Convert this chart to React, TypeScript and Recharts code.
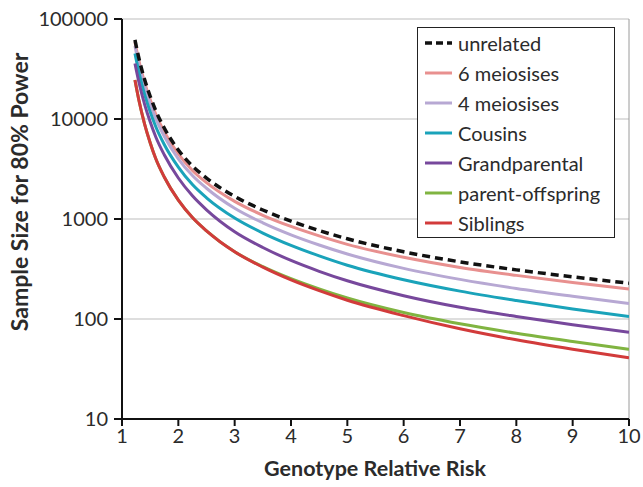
import React from 'react';
import { LineChart, Line, XAxis, YAxis, CartesianGrid, ReferenceLine, Label } from 'recharts';

const riskValues = [1.23, 1.3, 1.4, 1.5, 1.6, 1.75, 2, 2.25, 2.5, 3, 3.5, 4, 4.5, 5, 6, 7, 8, 9, 10];
const unrelated = [61700, 40500, 24970, 16890, 12090, 8130, 4900, 3390, 2570, 1680, 1230, 953, 767, 634, 470, 373, 310, 264, 228];
const meiosis6 = [58900, 38230, 23310, 15650, 11160, 7460, 4470, 3060, 2310, 1500, 1090, 843, 678, 558, 414, 328, 273, 232, 200];
const meiosis4 = [53700, 34870, 21260, 14200, 10100, 6730, 4000, 2720, 2030, 1280, 916, 695, 550, 447, 321, 249, 202, 169, 143];
const cousins = [45190, 29340, 17760, 11820, 8370, 5560, 3300, 2210, 1630, 1023, 724, 545, 428, 345, 247, 190, 153, 126, 106];
const grandparental = [35890, 23310, 14110, 9390, 6610, 4390, 2570, 1706, 1236, 746, 519, 385, 300, 241, 171, 131, 106, 87.7, 73.8];
const parentOffspring = [24550, 15400, 8960, 5790, 4000, 2630, 1542, 1035, 762, 470, 334, 253, 200, 162, 116, 89.5, 72.1, 59.6, 49.8];
const siblings = [24550, 15400, 8960, 5790, 4000, 2630, 1542, 1035, 762, 470, 330, 246, 192, 154, 108, 79.8, 61.9, 49.8, 40.9];

const xTicks = [1, 2, 3, 4, 5, 6, 7, 8, 9, 10];
const yTicks = [10, 100, 1000, 10000, 100000];

const legendOrder = [
  { key: 'unrelated', name: 'unrelated', color: '#111111', dashed: true, values: unrelated },
  { key: 'm6', name: '6 meiosises', color: '#E8908F', dashed: false, values: meiosis6 },
  { key: 'm4', name: '4 meiosises', color: '#B7A8D3', dashed: false, values: meiosis4 },
  { key: 'cousins', name: 'Cousins', color: '#1AA3BA', dashed: false, values: cousins },
  { key: 'grand', name: 'Grandparental', color: '#77489C', dashed: false, values: grandparental },
  { key: 'po', name: 'parent-offspring', color: '#80B441', dashed: false, values: parentOffspring },
  { key: 'sib', name: 'Siblings', color: '#D23B3B', dashed: false, values: siblings },
];

const drawOrder = ['m6', 'm4', 'cousins', 'grand', 'po', 'sib', 'unrelated'];

const data = riskValues.map((x, i) => {
  const row: Record<string, number> = { x };
  legendOrder.forEach((s) => {
    row[s.key] = s.values[i];
  });
  return row;
});

const FONT = 'Lato, "Open Sans", sans-serif';
const TEXT = '#2b2b2b';

export default function App() {
  return (
    <div style={{ position: 'absolute', left: 0, top: 0, width: 643, height: 487, background: '#fff', fontFamily: FONT }}>
      <LineChart width={643} height={487} data={data} margin={{ top: 19, right: 14, bottom: 0, left: 0 }}>
        <CartesianGrid horizontal={true} vertical={false} stroke="#BDBDBD" strokeWidth={1} />
        <ReferenceLine x={10} stroke="#9a9a9a" strokeWidth={1} />
        <XAxis
          dataKey="x"
          type="number"
          domain={[1, 10]}
          ticks={xTicks}
          height={68}
          allowDataOverflow
          stroke="#111"
          strokeWidth={2}
          tickSize={7}
          tickMargin={3}
          tick={{ fill: TEXT, fontSize: 20, fontFamily: FONT }}
          tickLine={{ stroke: '#111', strokeWidth: 2 }}
        >
          <Label
            content={() => (
              <text x={375} y={476} textAnchor="middle" fill={TEXT} fontSize={21.5} fontWeight="bold" fontFamily={FONT}>
                Genotype Relative Risk
              </text>
            )}
          />
        </XAxis>
        <YAxis
          scale="log"
          type="number"
          domain={[10, 100000]}
          ticks={yTicks}
          allowDataOverflow
          width={122}
          stroke="#111"
          strokeWidth={2}
          tickSize={8}
          tickMargin={6}
          tick={{ fill: TEXT, fontSize: 20, fontFamily: FONT }}
          tickLine={{ stroke: '#111', strokeWidth: 2 }}
        >
          <Label
            content={() => (
              <text
                x={19}
                y={192}
                transform="rotate(-90, 19, 192)"
                textAnchor="middle"
                dominantBaseline="central"
                fill={TEXT}
                fontSize={23}
                fontWeight="bold"
                fontFamily={FONT}
              >
                Sample Size for 80% Power
              </text>
            )}
          />
        </YAxis>
        {drawOrder.map((k) => {
          const s = legendOrder.find((d) => d.key === k)!;
          return (
            <Line
              key={s.key}
              dataKey={s.key}
              name={s.name}
              type="monotone"
              stroke={s.color}
              strokeWidth={s.dashed ? 3.5 : 3}
              strokeDasharray={s.dashed ? '8 5' : undefined}
              dot={false}
              activeDot={false}
              isAnimationActive={false}
            />
          );
        })}
      </LineChart>
      <div
        style={{
          position: 'absolute',
          left: 417,
          top: 27,
          width: 198,
          height: 211,
          border: '1.5px solid #222',
          background: '#fff',
          boxSizing: 'border-box',
          padding: 0,
        }}
      >
        {legendOrder.map((s) => (
          <div key={s.key} style={{ display: 'flex', alignItems: 'center', height: 30, fontSize: 20, color: TEXT, fontFamily: FONT }}>
            <svg width={40} height={10} style={{ flex: 'none' }}>
              <line
                x1={7}
                y1={5}
                x2={34}
                y2={5}
                stroke={s.color}
                strokeWidth={s.dashed ? 3.5 : 3}
                strokeDasharray={s.dashed ? '7 4' : undefined}
              />
            </svg>
            <span style={{ whiteSpace: 'nowrap' }}>{s.name}</span>
          </div>
        ))}
      </div>
    </div>
  );
}
